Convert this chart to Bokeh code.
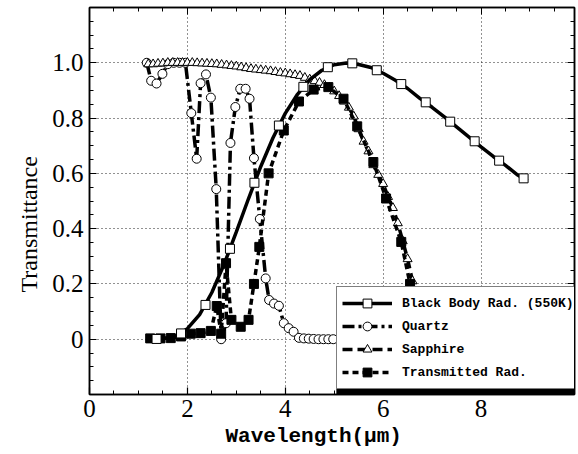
from bokeh.plotting import figure
from bokeh.models import (Range1d, FixedTicker, LinearAxis, Legend, LegendItem,
                          BoxAnnotation, CustomLabelingPolicy, Title)
from bokeh.embed import file_html
from bokeh.resources import INLINE

# ---------------- data ----------------
# Black body radiation (550 K), normalised - smooth line
bb_line_x = [1.25, 1.5, 1.75, 2.0, 2.25, 2.5, 2.75, 3.0, 3.25, 3.5, 3.75, 4.0, 4.25,
             4.5, 4.75, 5.0, 5.25, 5.5, 5.75, 6.0, 6.25, 6.5, 6.75, 7.0, 7.25, 7.5,
             7.75, 8.0, 8.25, 8.5, 8.75, 8.95]
bb_line_y = [0.0, 0.002, 0.011, 0.038, 0.089, 0.169, 0.271, 0.388, 0.509, 0.625, 0.729,
             0.817, 0.886, 0.939, 0.973, 0.993, 0.999, 0.994, 0.983, 0.962, 0.937, 0.907,
             0.871, 0.839, 0.804, 0.768, 0.732, 0.696, 0.661, 0.629, 0.594, 0.572]
# Black body marker points
bb_mark_x = [1.37, 1.87, 2.37, 2.87, 3.37, 3.87, 4.37, 4.87, 5.37, 5.87, 6.37, 6.87,
             7.37, 7.87, 8.37, 8.87]
bb_mark_y = [0.001, 0.021, 0.124, 0.327, 0.566, 0.773, 0.913, 0.984, 0.998, 0.973,
             0.923, 0.857, 0.787, 0.716, 0.646, 0.582]

# Quartz transmittance
quartz_x = [1.17, 1.26, 1.37, 1.49, 1.6, 1.72, 1.84, 1.96, 2.08, 2.19, 2.27, 2.38, 2.48,
            2.59, 2.69, 2.79, 2.88, 2.98, 3.08, 3.19, 3.27, 3.36, 3.48, 3.60, 3.67, 3.77,
            3.87, 3.97, 4.07, 4.17, 4.28, 4.38, 4.48, 4.58, 4.68, 4.78, 4.88, 4.98]
quartz_y = [1.0, 0.935, 0.925, 0.96, 0.995, 1.0, 1.0, 1.0, 0.818, 0.653, 0.926, 0.958,
            0.874, 0.543, 0.0, 0.058, 0.71, 0.84, 0.906, 0.906, 0.87, 0.655, 0.435, 0.22,
            0.142, 0.129, 0.121, 0.058, 0.04, 0.027, 0.005, 0.003, 0.002, 0.001, 0.0,
            0.0, 0.0, 0.0]

# Sapphire transmittance
sapphire_x = [1.2, 1.3, 1.4, 1.5, 1.6, 1.7, 1.8, 1.9, 2.0, 2.1, 2.2, 2.3, 2.4, 2.5, 2.6,
              2.7, 2.8, 2.9, 3.0, 3.1, 3.2, 3.3, 3.4, 3.5, 3.6, 3.7, 3.8, 3.9, 4.0, 4.1,
              4.2, 4.3, 4.4, 4.5, 4.6, 4.7, 4.8, 4.9, 5.0, 5.1, 5.2, 5.3, 5.4, 5.5, 5.6,
              5.7, 5.8, 5.9, 6.0, 6.1, 6.2, 6.3, 6.4, 6.5, 6.6, 6.7, 6.8, 6.9, 7.0]
sapphire_y = [0.995, 0.995, 0.997, 0.998, 1.0, 1.0, 1.0, 1.0, 1.0, 1.0, 0.999, 0.998,
              0.997, 0.996, 0.995, 0.993, 0.991, 0.989, 0.987, 0.984, 0.981, 0.978, 0.976,
              0.974, 0.972, 0.97, 0.967, 0.964, 0.962, 0.959, 0.956, 0.953, 0.946, 0.94,
              0.934, 0.928, 0.92, 0.91, 0.897, 0.88, 0.86, 0.838, 0.806, 0.76, 0.715,
              0.68, 0.63, 0.595, 0.562, 0.515, 0.475, 0.42, 0.355, 0.29, 0.21, 0.14,
              0.075, 0.03, 0.01]

# Transmitted radiation
trans_x = [1.24, 1.45, 1.66, 1.87, 2.07, 2.27, 2.48, 2.6, 2.69, 2.79, 2.9, 3.09, 3.25,
           3.36, 3.47, 3.66, 3.97, 4.28, 4.58, 4.88, 5.19, 5.47, 5.80, 6.06, 6.37, 6.55,
           6.7, 6.85]
trans_y = [0.003, 0.003, 0.004, 0.01, 0.02, 0.022, 0.03, 0.12, 0.02, 0.275, 0.07, 0.045,
           0.07, 0.2, 0.334, 0.6, 0.755, 0.86, 0.903, 0.912, 0.87, 0.77, 0.641, 0.509,
           0.352, 0.2, 0.08, 0.0]

x_ticks = [0, 2, 4, 6, 8]
y_ticks = [0, 0.2, 0.4, 0.6, 0.8, 1.0]
y_tick_labels = {0: "0", 0.2: "0.2", 0.4: "0.4", 0.6: "0.6", 0.8: "0.8", 1.0: "1.0"}

x_title = "Wavelength(\u03bcm)"
y_title = "Transmittance"
labels = ["Black Body Rad. (550K)", "Quartz", "Sapphire", "Transmitted Rad."]

# ---------------- figure ----------------
p = figure(width=578, height=454, x_range=Range1d(0, 9.91), y_range=Range1d(-0.2, 1.2),
           output_backend="svg", toolbar_location=None,
           min_border_left=89, min_border_right=0, min_border_top=7, min_border_bottom=60)
p.background_fill_color = "white"
p.outline_line_color = "black"
p.outline_line_width = 1.5

x_minor = [i * 0.5 for i in range(0, 21) if i % 4 != 0]
y_minor = [round(-0.2 + i * 0.05, 2) for i in range(0, 29)]
y_minor = [v for v in y_minor if v not in y_ticks and v not in (-0.2, 1.2)]
xt = FixedTicker(ticks=x_ticks, minor_ticks=x_minor)
yt = FixedTicker(ticks=y_ticks, minor_ticks=y_minor)

serif = "Liberation Serif"
mono = "Liberation Mono"

for ax in p.xaxis:
    ax.ticker = xt
    ax.major_label_text_font = serif
    ax.major_label_text_font_size = "25px"
    ax.major_label_standoff = 5
for ax in p.yaxis:
    ax.ticker = yt
    ax.major_label_overrides = y_tick_labels
    ax.major_label_text_font = serif
    ax.major_label_text_font_size = "25px"
    ax.major_label_standoff = 6

for ax in list(p.xaxis) + list(p.yaxis):
    ax.major_tick_in = 7
    ax.major_tick_out = 0
    ax.minor_tick_in = 4
    ax.minor_tick_out = 0
    ax.axis_line_width = 1.5
    ax.major_tick_line_width = 1.2
    ax.minor_tick_line_width = 1.0
    ax.major_label_text_color = "black"

hide_all = CustomLabelingPolicy(code="return new Set()")
top_ax = LinearAxis(ticker=xt, major_label_text_font_size="1px", major_tick_in=7,
                    major_tick_out=0, minor_tick_in=4, minor_tick_out=0,
                    major_label_standoff=0, axis_line_width=1.5,
                    major_label_policy=hide_all)
right_ax = LinearAxis(ticker=yt, major_label_text_font_size="1px", major_tick_in=7,
                      major_tick_out=0, minor_tick_in=4, minor_tick_out=0,
                      major_label_standoff=0, axis_line_width=1.5,
                      major_label_policy=hide_all)
p.add_layout(top_ax, "above")
p.add_layout(right_ax, "right")

# axis titles (offset along the axis as in the reference)
p.add_layout(Title(text=x_title, align="left", offset=136, text_font=mono,
                   text_font_style="bold", text_font_size="21px",
                   text_color="black", standoff=6), "below")
p.add_layout(Title(text=y_title, align="left", offset=102, text_font=serif,
                   text_font_style="normal", text_font_size="24px",
                   text_color="black", standoff=16), "left")

for g in (p.xgrid, p.ygrid):
    g.grid_line_color = "#222222"
    g.grid_line_dash = "1 3"
    g.grid_line_width = 1
p.xgrid.ticker = xt
p.ygrid.ticker = yt

# ---------------- series ----------------
lw = 3.5
q_line = p.line(quartz_x, quartz_y, line_color="black", line_width=lw, line_dash="12 4 3 4")
q_mark = p.scatter(quartz_x, quartz_y, marker="circle", size=9, fill_color="white",
                   line_color="black", line_width=1)

s_line = p.line(sapphire_x, sapphire_y, line_color="black", line_width=lw, line_dash="10 5")
s_mark = p.scatter(sapphire_x, sapphire_y, marker="triangle", size=9, fill_color="white",
                   line_color="black", line_width=1)

t_line = p.line(trans_x, trans_y, line_color="black", line_width=lw, line_dash="6 4")
t_mark = p.scatter(trans_x, trans_y, marker="square", size=9, fill_color="black",
                   line_color="black", line_width=1)

b_line = p.line(bb_line_x, bb_line_y, line_color="black", line_width=lw)
b_mark = p.scatter(bb_mark_x, bb_mark_y, marker="square", size=9, fill_color="white",
                   line_color="black", line_width=1)

# legend shadow (thick black edge under the legend box)
shadow = BoxAnnotation(left=336, right=578, top=296, bottom=394,
                       left_units="canvas", right_units="canvas",
                       top_units="canvas", bottom_units="canvas",
                       fill_color="black", fill_alpha=1.0, line_color="black")
p.add_layout(shadow)

legend = Legend(items=[LegendItem(label=labels[0], renderers=[b_line, b_mark]),
                       LegendItem(label=labels[1], renderers=[q_line, q_mark]),
                       LegendItem(label=labels[2], renderers=[s_line, s_mark]),
                       LegendItem(label=labels[3], renderers=[t_line, t_mark])],
                location=(247, 5))
legend.label_text_font = mono
legend.label_text_font_style = "bold"
legend.label_text_font_size = "13px"
legend.label_text_color = "black"
legend.glyph_width = 50
legend.glyph_height = 22
legend.label_height = 22
legend.label_standoff = 10
legend.spacing = 1
legend.padding = 5
legend.margin = 0
legend.border_line_color = "black"
legend.border_line_width = 1.5
legend.background_fill_color = "white"
legend.background_fill_alpha = 1.0
p.add_layout(legend, "center")

open("out.html", "w").write(file_html(p, INLINE))
